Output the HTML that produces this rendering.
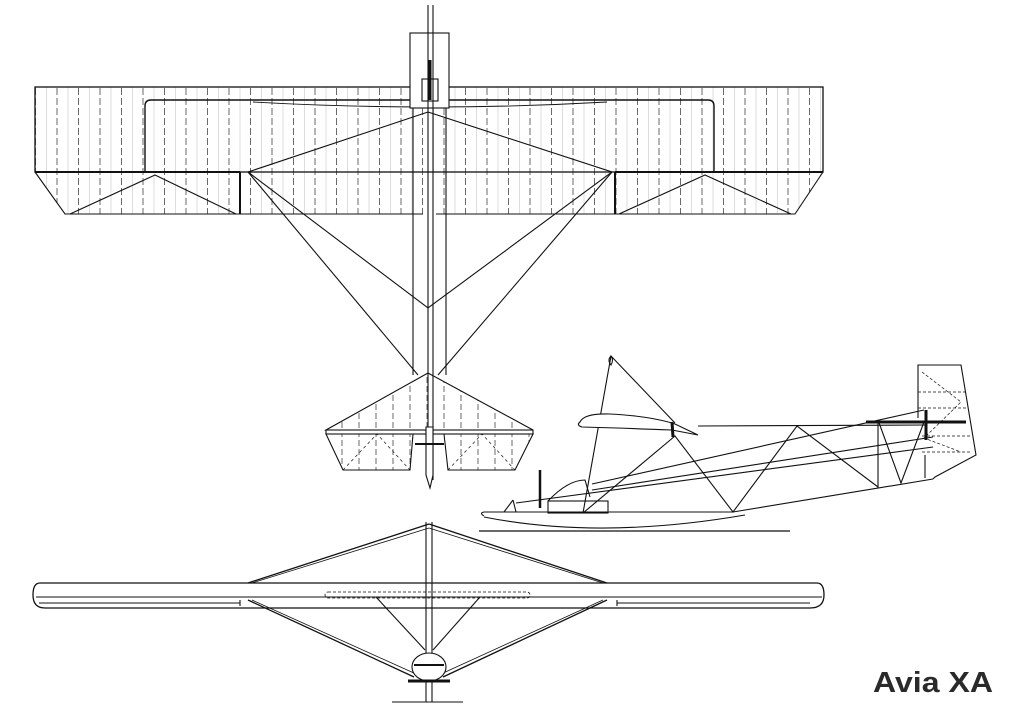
<!DOCTYPE html>
<html><head><meta charset="utf-8"><style>
html,body{margin:0;padding:0;background:#fff;}
svg{display:block;}
</style></head><body>
<svg width="1024" height="717" viewBox="0 0 1024 717" xmlns="http://www.w3.org/2000/svg">
<defs>
<pattern id="ribs" x="12" y="0" width="21.5" height="10" patternUnits="userSpaceOnUse">
<line x1="2" y1="0" x2="2" y2="10" stroke="#444" stroke-width="0.8" stroke-dasharray="5 3"/>
<line x1="13" y1="0" x2="13" y2="10" stroke="#bbb" stroke-width="0.5"/>
</pattern>
<pattern id="ribs2" x="0" y="0" width="17" height="9" patternUnits="userSpaceOnUse">
<line x1="2" y1="0" x2="2" y2="9" stroke="#444" stroke-width="0.8" stroke-dasharray="5 3"/>
</pattern>
</defs>
<g fill="none" stroke="#111" stroke-width="1.1">
<!-- TOP VIEW -->
<polygon points="35,87 823,87 823,172 795,214 615,214 615,172 612,172 612,214 436,214 436,172 423,172 423,214 240,214 240,172 35,172" fill="url(#ribs)" stroke="none"/>
<polygon points="35,172 65,214 240,214 240,172" fill="url(#ribs)" stroke="none"/>
<rect x="35" y="87" width="788" height="85" stroke-width="1.3"/>
<line x1="35" y1="172" x2="240" y2="172" stroke-width="2"/>
<line x1="615" y1="172" x2="823" y2="172" stroke-width="2"/>
<polyline points="35,172 65,214 240,214 240,172"/>
<line x1="240" y1="172" x2="240" y2="214" stroke-width="2"/>
<polyline points="823,172 795,214 615,214 615,172"/>
<line x1="615" y1="172" x2="615" y2="214" stroke-width="2"/>
<line x1="240" y1="214" x2="423" y2="214"/>
<line x1="436" y1="214" x2="615" y2="214"/>
<polyline points="70,214 155,175 236,214"/>
<polyline points="619,214 705,175 791,214"/>
<path d="M145,172 V106 Q145,100 151,100 H708 Q714,100 714,106 V172" stroke-width="1.4"/>
<path d="M253,100 L607,100 M253,102 Q430,112 607,102" stroke-width="0.9"/>
<!-- fuselage -->
<rect x="410" y="33" width="39" height="75" fill="#fff"/>
<line x1="428" y1="5" x2="428" y2="480" />
<line x1="433" y1="5" x2="433" y2="480" />
<line x1="413" y1="108" x2="413" y2="375"/>
<line x1="446" y1="108" x2="446" y2="375"/>
<rect x="422" y="79" width="16" height="22"/>
<line x1="430" y1="60" x2="430" y2="100" stroke-width="3"/>
<!-- bracing -->
<polyline points="428,112 248,172 428,308 612,172 428,112"/>
<polyline points="248,172 418,375"/>
<polyline points="612,172 438,375"/>
<!-- tail top -->
<polygon points="428,373 326,430 533,430" fill="url(#ribs2)" stroke="#111"/>
<rect x="326" y="430" width="207" height="4"/>
<polygon points="326,434 343,470 410,470 413,434" fill="url(#ribs2)"/>
<polygon points="444,434 448,470 515,470 533,434" fill="url(#ribs2)"/>
<polyline points="343,470 377,434 410,470" stroke-dasharray="3 3" stroke-width="0.7"/>
<polyline points="448,470 482,434 515,470" stroke-dasharray="3 3" stroke-width="0.7"/>
<path d="M426,427 H433 V475 L430,488 L426,475 Z" fill="#fff"/>
<line x1="415" y1="444" x2="444" y2="444" stroke-width="2"/>

<!-- SIDE VIEW -->
<line x1="479" y1="531" x2="790" y2="531" stroke-width="1.3"/>
<path d="M484,516 Q479,513 484,512 H733 M484,517 Q600,540 745,515"/>
<line x1="733" y1="512" x2="933" y2="479"/>
<polyline points="583,513 611,356 675,423"/>
<path d="M611,356 Q607,360 611,365 Q614,360 611,356" />
<path d="M580,422 Q584,413 610,414 Q650,416 675,424 L698,435 L672,430 Q620,428 582,427 Q576,425 580,422 Z" fill="#fff"/>
<line x1="672" y1="422" x2="673" y2="437" stroke-width="3"/>
<line x1="698" y1="426" x2="926" y2="425"/>
<polyline points="583,513 675,436 733,512 797,426 878,487 878,420"/>
<polyline points="878,420 901,483 924,422"/>
<line x1="866" y1="422" x2="966" y2="422" stroke-width="3"/>
<polyline points="918,418 918,365 961,365 976,455 935,477 933,479"/>
<polyline points="922,372 961,402 924,438 961,452" stroke-dasharray="3 2" stroke-width="0.7"/>
<line x1="918" y1="392" x2="966" y2="392" stroke-dasharray="3 2" stroke-width="0.7"/>
<line x1="918" y1="408" x2="966" y2="408" stroke-dasharray="3 2" stroke-width="0.7"/>
<line x1="922" y1="436" x2="970" y2="436" stroke-dasharray="3 2" stroke-width="0.7"/>
<line x1="922" y1="452" x2="972" y2="452" stroke-dasharray="3 2" stroke-width="0.7"/>
<line x1="926" y1="410" x2="926" y2="440" stroke-width="3"/>
<line x1="592" y1="484" x2="924" y2="410"/>
<line x1="592" y1="490" x2="933" y2="437"/>
<line x1="516" y1="503" x2="933" y2="447"/>
<line x1="925" y1="455" x2="925" y2="478"/>
<path d="M548,501 Q568,480 585,480 L590,497" />
<rect x="548" y="501" width="60" height="12"/>
<line x1="540" y1="470" x2="540" y2="508" stroke-width="2.5"/>
<line x1="504" y1="512" x2="513" y2="500"/><line x1="513" y1="500" x2="516" y2="512"/>

<!-- FRONT VIEW -->
<path d="M40,583 H817 Q824,583 824,595 Q824,608 810,608 H45 Q33,608 33,595 Q33,583 40,583 Z" stroke-width="1.3"/>
<line x1="36" y1="597" x2="822" y2="597"/>
<line x1="39" y1="603" x2="240" y2="603"/>
<line x1="617" y1="603" x2="810" y2="603"/>
<line x1="240" y1="600" x2="240" y2="606"/><line x1="617" y1="600" x2="617" y2="606"/>
<rect x="325" y="592" width="205" height="6" rx="3" stroke-dasharray="3 2" stroke-width="0.8"/>
<line x1="426" y1="522" x2="426" y2="702"/>
<line x1="432" y1="522" x2="432" y2="702"/>
<line x1="429" y1="524" x2="248" y2="583" stroke-width="1.3"/>
<line x1="429" y1="528" x2="252" y2="583" stroke-width="0.8"/>
<line x1="429" y1="524" x2="607" y2="583" stroke-width="1.3"/>
<line x1="429" y1="528" x2="603" y2="583" stroke-width="0.8"/>
<line x1="248" y1="600" x2="414" y2="677" stroke-width="1.3"/>
<line x1="252" y1="600" x2="416" y2="674" stroke-width="0.8"/>
<line x1="607" y1="600" x2="443" y2="677" stroke-width="1.3"/>
<line x1="603" y1="600" x2="441" y2="674" stroke-width="0.8"/>
<line x1="376" y1="597" x2="425" y2="650"/>
<line x1="480" y1="597" x2="433" y2="650"/>
<ellipse cx="429" cy="667" rx="17" ry="14" fill="#fff"/>
<line x1="414" y1="665" x2="444" y2="665" stroke-width="2"/>
<line x1="408" y1="681" x2="450" y2="681" stroke-width="3"/>
<line x1="392" y1="702" x2="463" y2="702"/>
</g>
<text x="873" y="692" font-family="'Liberation Sans', sans-serif" font-size="29" font-weight="bold" fill="#2a2a2a" textLength="120" lengthAdjust="spacingAndGlyphs">Avia XA</text>
</svg>
</body></html>
